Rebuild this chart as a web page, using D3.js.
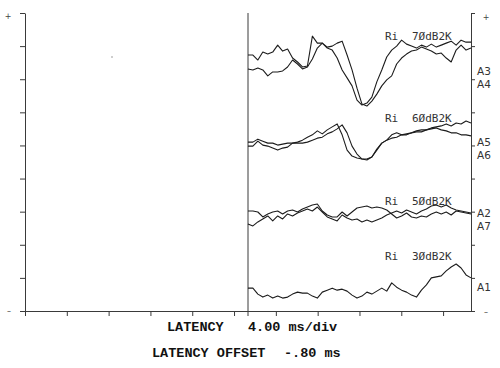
<!DOCTYPE html>
<html>
<head>
<meta charset="utf-8">
<script src="https://cdn.jsdelivr.net/npm/d3@7"></script>
<style>
  html, body { margin: 0; padding: 0; background: #fff; }
  svg { display: block; }
</style>
</head>
<body>
<svg id="chart" width="500" height="368"></svg>
<script>
// ---------------- DATA ----------------
// Screen time base: 4.00 ms/div, two half panels; traces recorded in right half.
const TIME_MAX = 42.67;        // ms across full screen
const SWEEP_START = 21.33;     // ms (right panel start)
const SWEEP_END = 42.67;       // ms
const xTicks = [0, 4, 8, 12, 16, 20, 24, 28, 32, 36, 40];
const yTicks = [0, 10, 20, 30, 40, 50, 60, 70, 80, 90];
const traceLabels = ["Ri", "Ri", "Ri", "Ri"];
const levelLabels = ["7ØdB2K", "6ØdB2K", "5ØdB2K", "3ØdB2K"];
const channelLabels = ["A3", "A4", "A5", "A6", "A2", "A7", "A1"];
const footerLine1 = ["LATENCY", "4.00 ms/div"];
const footerLine2 = ["LATENCY OFFSET", "-.80 ms"];

// Trace amplitudes (screen units, 10 per division), equally spaced in time
const traceA3 = [77.3,77.3,75.8,78.2,77.6,78.2,80.3,78.5,79.1,76.4,75.2,73.7,74.0,83.0,80.9,80.9,79.4,78.8,76.4,72.8,70.4,68.0,63.7,62.2,62.8,64.6,69.2,72.8,76.7,78.8,80.0,81.8,80.6,80.0,79.4,80.3,79.7,80.6,79.7,80.3,80.9,81.5,80.3,81.8,81.2,81.2];
const traceA4 = [73.1,72.8,73.4,72.8,71.0,72.2,72.2,72.5,73.7,75.8,74.6,73.1,73.7,76.1,79.4,80.9,79.7,80.0,80.9,81.5,77.3,72.8,67.3,62.5,61.9,63.4,65.5,68.0,69.8,71.0,74.6,76.4,77.6,78.5,78.8,79.7,79.1,78.5,77.6,77.9,76.4,75.2,78.8,80.3,78.8,79.4];
const traceA5 = [51.0,51.0,51.9,51.3,50.7,50.7,50.1,50.4,50.7,50.7,51.0,51.6,52.5,53.2,54.4,53.5,54.7,55.6,56.5,53.2,48.6,46.8,46.2,45.9,45.9,46.5,48.6,50.7,51.6,53.2,53.8,53.2,53.5,53.8,54.4,54.7,54.7,55.3,55.6,55.9,56.5,55.9,56.8,56.5,57.4,56.8];
const traceA6 = [49.8,49.8,51.3,50.1,49.8,49.2,48.6,49.2,49.5,50.7,50.7,50.7,51.0,51.6,52.2,52.5,53.5,54.1,55.0,56.2,53.8,49.8,47.4,45.9,45.6,46.5,48.9,50.7,51.6,52.2,52.5,53.2,53.2,53.8,54.1,54.1,54.7,55.0,55.3,54.7,54.4,53.8,53.8,53.2,53.2,52.9];
const traceA2 = [30.2,30.2,29.9,28.4,29.3,29.9,30.2,29.3,30.2,30.5,29.9,30.8,31.4,32.0,32.3,30.2,29.0,28.4,28.4,29.9,28.7,29.9,31.1,31.4,31.7,31.1,31.4,31.1,30.5,29.3,28.1,28.7,29.6,28.4,28.1,28.7,28.4,29.3,29.9,29.3,29.9,29.0,30.2,29.9,29.6,29.3];
const traceA7 = [26.3,25.7,26.9,27.8,28.7,27.2,28.7,27.8,29.3,28.7,29.6,30.2,30.8,30.2,31.4,29.9,28.4,27.8,27.2,29.0,28.1,27.5,27.8,26.9,27.5,26.9,27.5,28.1,29.0,29.6,30.2,29.6,30.5,29.9,29.3,30.2,30.8,31.7,32.0,31.4,32.0,31.1,30.5,30.2,29.9,29.6];
const traceA1 = [6.9,6.9,5.1,4.2,4.8,3.9,4.5,3.9,4.2,5.1,5.7,5.4,5.4,4.5,3.9,5.7,6.3,6.9,6.3,6.6,6.0,4.8,3.9,4.5,5.7,5.1,6.0,6.9,6.0,8.5,7.2,6.3,5.7,4.8,4.2,6.3,7.9,10.0,10.3,10.6,12.1,13.3,14.2,13.0,10.9,10.0];

// ---------------- LAYOUT ----------------
const svg = d3.select("#chart");
const frame = { left: 25, right: 471, top: 13, bottom: 311 };
const x = d3.scaleLinear().domain([0, TIME_MAX]).range([frame.left, frame.right]);
const y = d3.scaleLinear().domain([0, 90]).range([frame.bottom, frame.top]);
const axisColor = "#3a3a3a";
const inkColor = "#1c1c1c";

// Axes
const gl = svg.append("g").attr("transform", `translate(${frame.left},0)`)
  .call(d3.axisLeft(y).tickValues(yTicks).tickSize(5).tickSizeOuter(0).tickFormat(""));
const gr = svg.append("g").attr("transform", `translate(${frame.right},0)`)
  .call(d3.axisRight(y).tickValues(yTicks).tickSize(4).tickSizeOuter(0).tickFormat(""));
const gb = svg.append("g").attr("transform", `translate(0,${frame.bottom})`)
  .call(d3.axisBottom(x).tickValues(xTicks).tickSize(5).tickSizeOuter(0).tickFormat(""));
[gl, gr, gb].forEach(g => {
  g.selectAll("path, line").attr("stroke", axisColor).attr("stroke-width", 1);
  g.selectAll("text").remove();
});

// centre divider between panels
svg.append("line")
  .attr("x1", x(TIME_MAX / 2)).attr("x2", x(TIME_MAX / 2))
  .attr("y1", y(90)).attr("y2", frame.bottom + 5)
  .attr("stroke", axisColor).attr("stroke-width", 1);

// polarity markers
const markFont = "DejaVu Sans, sans-serif";
svg.append("text").attr("x", 8).attr("y", 19).text("+")
  .attr("font-family", markFont).attr("font-size", 8).attr("fill", "#444").attr("text-anchor", "middle");
svg.append("text").attr("x", 486).attr("y", 20).text("+")
  .attr("font-family", markFont).attr("font-size", 8).attr("fill", "#444").attr("text-anchor", "middle");
svg.append("text").attr("x", 9).attr("y", 314).text("–")
  .attr("font-family", markFont).attr("font-size", 8).attr("fill", "#444").attr("text-anchor", "middle");
svg.append("text").attr("x", 486).attr("y", 315).text("–")
  .attr("font-family", markFont).attr("font-size", 8).attr("fill", "#444").attr("text-anchor", "middle");

// stray plotter speck
svg.append("circle").attr("cx", 112).attr("cy", 57).attr("r", 0.7).attr("fill", "#777");

// Traces
const traces = [traceA3, traceA4, traceA5, traceA6, traceA2, traceA7, traceA1];
const line = d3.line()
  .x((d, i, arr) => x(SWEEP_START + i * (SWEEP_END - SWEEP_START) / (arr.length - 1)))
  .y(d => y(d));
traces.forEach(t => {
  svg.append("path")
    .attr("d", line(t))
    .attr("fill", "none")
    .attr("stroke", inkColor)
    .attr("stroke-width", 1.1)
    .attr("stroke-linejoin", "round");
});

// Level labels  (layout: baseline levels in screen units)
const labelLevels = [81.8, 57.0, 32.0, 15.4];
const monoFont = "DejaVu Sans Mono, monospace";
labelLevels.forEach((lv, i) => {
  svg.append("text").attr("x", 385).attr("y", y(lv)).text(traceLabels[i])
    .attr("font-family", monoFont).attr("font-size", 11).attr("fill", "#333");
  svg.append("text").attr("x", 412).attr("y", y(lv)).text(levelLabels[i])
    .attr("font-family", monoFont).attr("font-size", 11).attr("fill", "#333");
});

// Channel labels at right
const channelLevels = [72.2, 68.3, 50.7, 46.8, 29.3, 25.4, 6.9];
channelLabels.forEach((lab, i) => {
  svg.append("text").attr("x", 477).attr("y", y(channelLevels[i])).text(lab)
    .attr("dominant-baseline", "middle")
    .attr("font-family", "DejaVu Sans, sans-serif").attr("font-size", 10.5).attr("fill", "#333");
});

// Footer
const footFont = "Liberation Mono, Courier New, monospace";
function foot(txt, xx, yy) {
  svg.append("text").attr("x", xx).attr("y", yy).text(txt)
    .attr("font-family", footFont).attr("font-size", 13.5).attr("font-weight", "bold").attr("fill", "#111");
}
foot(footerLine1[0], 167, 331);
foot(footerLine1[1], 248, 331);
foot(footerLine2[0], 152, 357);
foot(footerLine2[1], 284, 357);
</script>
</body>
</html>
